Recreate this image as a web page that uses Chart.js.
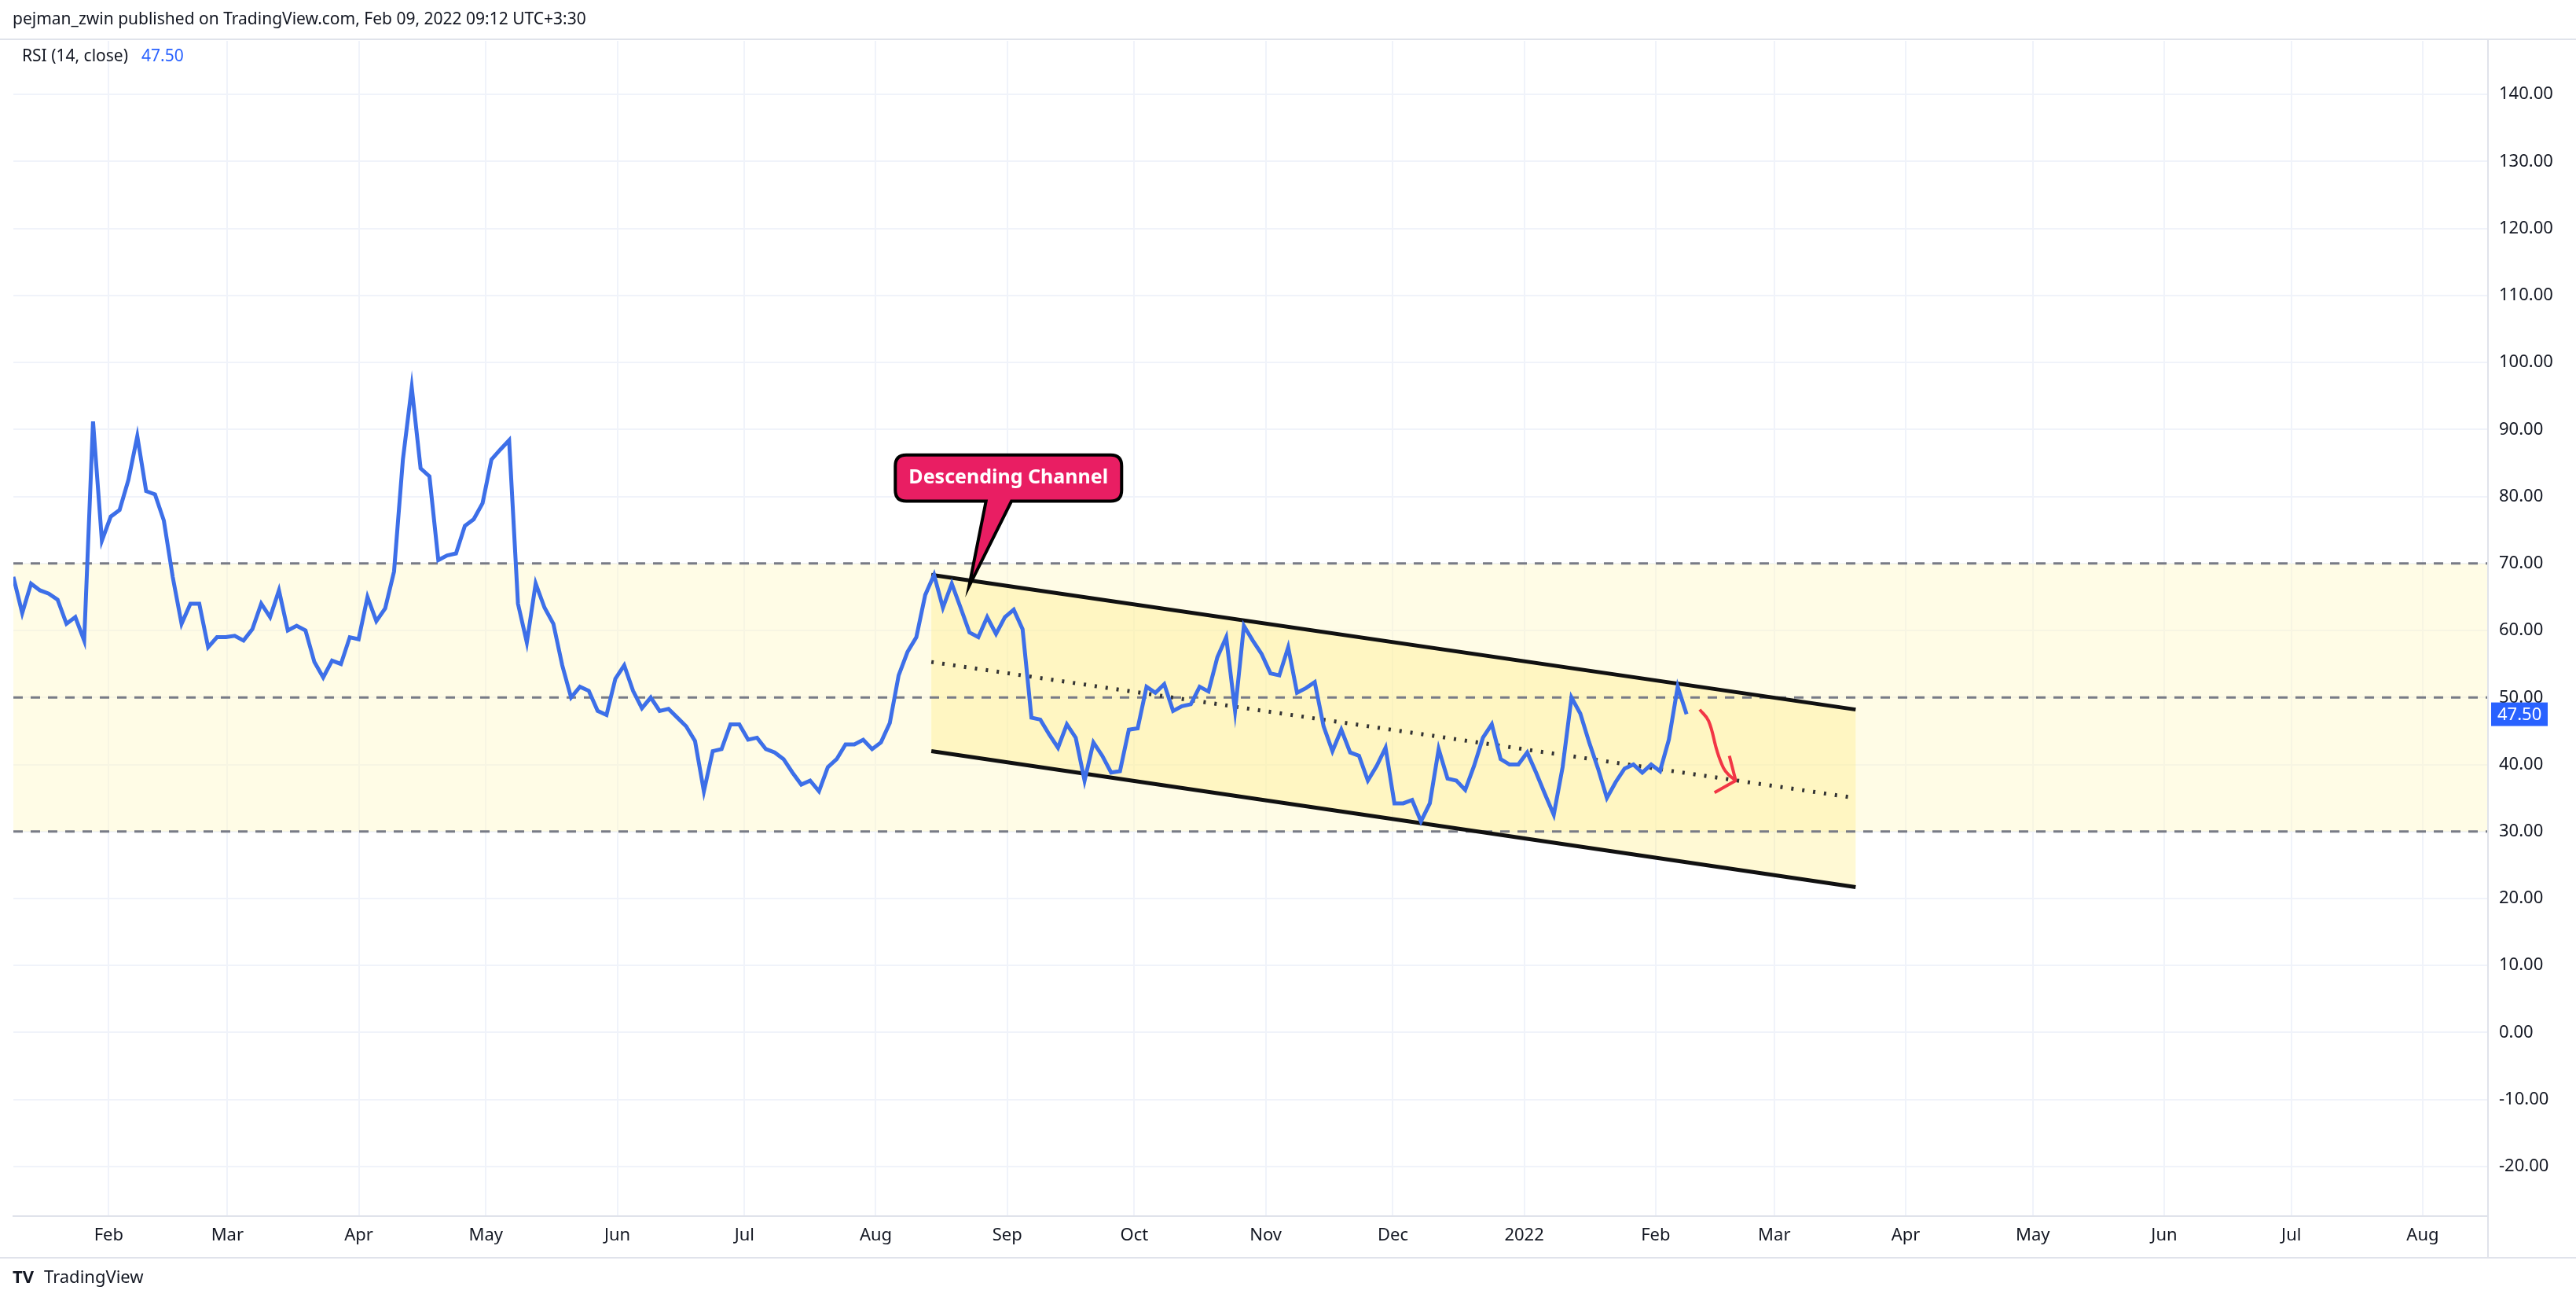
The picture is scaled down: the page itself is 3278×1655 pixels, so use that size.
<!DOCTYPE html>
<html><head><meta charset="utf-8">
<script src="https://cdn.jsdelivr.net/npm/chart.js@4"></script>
<style>html,body{margin:0;padding:0;background:#fff}#wrap{width:3278px;height:1655px}</style>
</head><body><div id="wrap"><canvas id="c" width="3278" height="1655"></canvas></div>
<script>
const rsiValues=[68,62.6,67,66,65.5,64.6,61,62,58.5,91.2,73.4,77,78,82.5,89,80.8,80.3,76.4,68,61,64,64,57.5,59,59,59.2,58.5,60.2,64,62,66,60,60.7,60,55.3,53,55.5,55,59,58.7,65,61.4,63.3,68.8,85.5,96.3,84.2,83,70.5,71.2,71.5,75.6,76.6,79,85.5,87,88.4,64,58.2,67,63.4,61,54.8,50,51.6,51,48,47.4,52.8,54.8,51,48.4,50,48,48.3,47,45.7,43.5,36,42,42.3,46,46,43.7,44,42.3,41.8,40.8,38.8,37,37.6,36,39.6,40.8,43,43,43.7,42.3,43.3,46.2,53.3,56.8,59,65.3,68.3,63.4,67,63.4,59.7,59,62,59.5,62,63.1,60.2,47,46.7,44.5,42.5,46,44,37.6,43.3,41.3,38.8,39,45.2,45.4,51.6,50.7,52,48,48.7,49,51.6,50.9,56,59,48,60.7,58.5,56.5,53.6,53.3,57.5,50.7,51.4,52.3,45.7,42,45.2,41.8,41.3,37.6,39.8,42.5,34.2,34.2,34.7,31.5,34.2,42.3,37.9,37.6,36.2,39.8,44,46,40.8,40,40,41.8,38.8,35.6,32.5,39.6,50,47.6,43.3,39.4,35,37.4,39.4,40,38.8,40,39,43.7,51.6,47.5];
const rsiStartDay=8.5, rsiEndDay=403.3; // days since 2021-01-01
const monthDays=[31,59,90,120,151,181,212,243,273,304,334,365,396,424,455,485,516,546,577];
const monthLabels=['Feb','Mar','Apr','May','Jun','Jul','Aug','Sep','Oct','Nov','Dec','2022','Feb','Mar','Apr','May','Jun','Jul','Aug'];
const yTicks=[140,130,120,110,100,90,80,70,60,50,40,30,20,10,0,-10,-20];
const levels=[70,50,30];
const channelDays=[225.1,443.2];
const channelUpper=[68.3,48.2], channelMid=[55.3,35], channelLower=[42,21.7];
const arrowDays=[406.4,408.5,410.5,412,413.2,414.9], arrowVals=[48.2,46.5,42,39.5,38.5,37.6];
const arrowHeadDays=[409.9,414.9,413.4], arrowHeadVals=[35.8,37.6,41.3];
const callout={text:'Descending Channel',x0:216.6,x1:270,yTop:86.2,yBot:79.3,tipX:234,tipY:66.6,baseX0:238,baseX1:244};

const step=(rsiEndDay-rsiStartDay)/(rsiValues.length-1);
const rsiData=rsiValues.map((v,i)=>({x:rsiStartDay+i*step,y:v}));
const pts=(xs,ys)=>xs.map((x,i)=>({x:x,y:ys[i]}));
const F='"Noto Sans", sans-serif';

const bgPlugin={id:'bg',beforeDatasetsDraw(ch){
  const {ctx,chartArea:a,scales:{x,y}}=ch;
  ctx.save();
  ctx.fillStyle='rgba(255,248,200,0.45)';
  ctx.fillRect(a.left,y.getPixelForValue(70),a.right-a.left,y.getPixelForValue(30)-y.getPixelForValue(70));
  ctx.fillStyle='rgba(255,235,100,0.28)';
  ctx.beginPath();
  ctx.moveTo(x.getPixelForValue(channelDays[0]),y.getPixelForValue(channelUpper[0]));
  ctx.lineTo(x.getPixelForValue(channelDays[1]),y.getPixelForValue(channelUpper[1]));
  ctx.lineTo(x.getPixelForValue(channelDays[1]),y.getPixelForValue(channelLower[1]));
  ctx.lineTo(x.getPixelForValue(channelDays[0]),y.getPixelForValue(channelLower[0]));
  ctx.closePath();ctx.fill();
  ctx.strokeStyle='#787b86';ctx.lineWidth=3;ctx.setLineDash([12,10]);
  levels.forEach(l=>{const py=y.getPixelForValue(l);ctx.beginPath();ctx.moveTo(a.left,py);ctx.lineTo(a.right,py);ctx.stroke();});
  ctx.restore();
},afterDraw(ch){
  const {ctx,chartArea:a,scales:{x,y}}=ch;
  ctx.save();
  const X0=x.getPixelForValue(callout.x0),X1=x.getPixelForValue(callout.x1),Y0=y.getPixelForValue(callout.yTop),Y1=y.getPixelForValue(callout.yBot);
  const r=14;
  ctx.beginPath();
  ctx.moveTo(X0+r,Y0);ctx.lineTo(X1-r,Y0);ctx.quadraticCurveTo(X1,Y0,X1,Y0+r);ctx.lineTo(X1,Y1-r);ctx.quadraticCurveTo(X1,Y1,X1-r,Y1);
  ctx.lineTo(x.getPixelForValue(callout.baseX1),Y1);ctx.lineTo(x.getPixelForValue(callout.tipX),y.getPixelForValue(callout.tipY));ctx.lineTo(x.getPixelForValue(callout.baseX0),Y1);
  ctx.lineTo(X0+r,Y1);ctx.quadraticCurveTo(X0,Y1,X0,Y1-r);ctx.lineTo(X0,Y0+r);ctx.quadraticCurveTo(X0,Y0,X0+r,Y0);ctx.closePath();
  ctx.fillStyle='#e91e63';ctx.fill();ctx.lineWidth=4;ctx.strokeStyle='#000';ctx.stroke();
  ctx.fillStyle='#fff';ctx.font='bold 25px '+F;ctx.textAlign='center';ctx.textBaseline='middle';
  ctx.fillText(callout.text,(X0+X1)/2,(Y0+Y1)/2);
  const py=y.getPixelForValue(rsiValues[rsiValues.length-1]);
  ctx.fillStyle='#2962ff';ctx.fillRect(a.right+4,py-15,72,30);
  ctx.fillStyle='#fff';ctx.font='22px '+F;ctx.textAlign='left';ctx.fillText(rsiValues[rsiValues.length-1].toFixed(2),a.right+12,py+1);
  ctx.fillStyle='#131722';ctx.font='21px '+F;ctx.textBaseline='middle';
  ctx.fillText('pejman_zwin published on TradingView.com, Feb 09, 2022 09:12 UTC+3:30',16,25);
  ctx.fillText('RSI (14, close)',28,72);
  ctx.fillStyle='#2962ff';ctx.fillText('47.50',180,72);
  ctx.fillStyle='#131722';ctx.font='bold 22px '+F;ctx.fillText('TV',16,1626);
  ctx.font='22px '+F;ctx.fillText('TradingView',56,1626);
  ctx.strokeStyle='#e0e3eb';ctx.lineWidth=2;ctx.setLineDash([]);
  ctx.beginPath();ctx.moveTo(0,50);ctx.lineTo(3278,50);ctx.moveTo(0,1600);ctx.lineTo(3278,1600);ctx.moveTo(a.right,50);ctx.lineTo(a.right,1600);ctx.moveTo(16,a.bottom);ctx.lineTo(a.right,a.bottom);ctx.stroke();
  ctx.restore();
}};

new Chart(document.getElementById('c'),{
  type:'line',
  data:{datasets:[
    {data:rsiData,borderColor:'#3d6fe8',borderWidth:5,pointRadius:0,tension:0},
    {data:pts(channelDays,channelUpper),borderColor:'#111',borderWidth:5,pointRadius:0},
    {data:pts(channelDays,channelLower),borderColor:'#111',borderWidth:5,pointRadius:0},
    {data:pts(channelDays,channelMid),borderColor:'#333',borderWidth:5,borderDash:[3,11],pointRadius:0},
    {data:pts(arrowDays,arrowVals),borderColor:'#f23645',borderWidth:4,pointRadius:0,tension:0.4},
    {data:pts(arrowHeadDays,arrowHeadVals),borderColor:'#f23645',borderWidth:4,pointRadius:0}
  ]},
  options:{responsive:false,animation:false,
    layout:{padding:{left:17,top:52,bottom:48,right:0}},
    plugins:{legend:{display:false},tooltip:{enabled:false}},
    scales:{
      x:{type:'linear',min:8.5,max:592.4,
        afterBuildTicks(s){s.ticks=monthDays.map(v=>({value:v}));},
        afterFit(s){s.height=60;},
        ticks:{autoSkip:false,maxRotation:0,color:'#131722',font:{size:22,family:F},padding:12,
          callback:(v)=>{const i=monthDays.indexOf(v);return i>=0?monthLabels[i]:'';}},
        grid:{color:'#f0f3fa',lineWidth:2,drawTicks:false},border:{display:false}},
      y:{position:'right',min:-27.4,max:148,
        afterBuildTicks(s){s.ticks=yTicks.map(v=>({value:v}));},
        afterFit(s){s.width=112;},
        ticks:{color:'#131722',font:{size:22,family:F},padding:14,callback:v=>v.toFixed(2)},
        grid:{color:'#f0f3fa',lineWidth:2,drawTicks:false},border:{display:false}}
    }},
  plugins:[bgPlugin]
});
</script></body></html>
